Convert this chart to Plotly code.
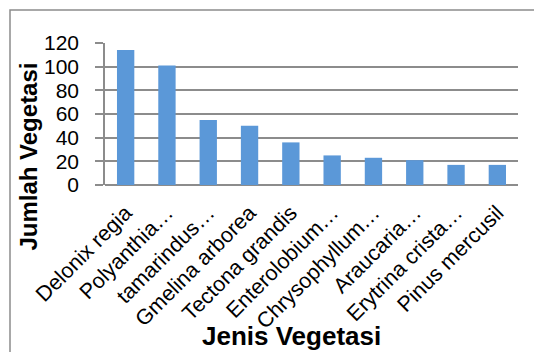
import plotly.graph_objects as go

categories = ["Delonix regia", "Polyanthia…", "tamarindus…", "Gmelina arborea",
              "Tectona grandis", "Enterolobium…", "Chrysophyllum…", "Araucaria…",
              "Erytrina crista…", "Pinus mercusil"]
values = [114, 101, 55, 50, 36, 25, 23, 21, 17, 17]
y_ticks = [0, 20, 40, 60, 80, 100, 120]

W, H = 534, 352
L, R, T, B = 105, 16, 43, 166.5
pw = W - L - R
ph = H - T - B

def px_x(x):
    return (x - L) / pw

def px_y(y):
    return (H - B - y) / ph

fig = go.Figure(go.Bar(
    x=categories, y=values,
    marker=dict(color="#5B98D8", line=dict(width=0)),
))

grid = "#8C8C8C"
font = "Liberation Sans, Arial, sans-serif"

fig.update_layout(
    width=W, height=H,
    margin=dict(l=L, r=R, t=T, b=B, autoexpand=False),
    paper_bgcolor="white", plot_bgcolor="white",
    bargap=0.58,
    showlegend=False,
    font=dict(family=font, color="black"),
    xaxis=dict(
        tickangle=-45, tickfont=dict(size=21.5, family=font, color="black"),
        showgrid=False, showline=False, ticks="", ticklabelstandoff=10,
        automargin=False,
    ),
    yaxis=dict(
        range=[0, 120], tickvals=y_ticks, ticktext=[str(v) for v in y_ticks],
        tickfont=dict(size=21, family=font, color="black"),
        showgrid=True, gridcolor=grid, gridwidth=1.5,
        showline=True, linecolor=grid, linewidth=1.5,
        ticks="outside", ticklen=8, tickcolor=grid, tickwidth=1.5,
        ticklabelstandoff=12, zeroline=True, zerolinecolor=grid, zerolinewidth=1.5,
        automargin=False,
    ),
    shapes=[dict(type="rect", xref="paper", yref="paper",
                 x0=px_x(10), x1=px_x(545), y0=px_y(10), y1=px_y(362),
                 line=dict(color="#8C8C8C", width=1.5), fillcolor="rgba(0,0,0,0)",
                 layer="below")],
    annotations=[
        dict(text="<b>Jumlah Vegetasi</b>", textangle=-90, showarrow=False,
             xref="paper", yref="paper", x=px_x(29), y=px_y(157),
             xanchor="center", yanchor="middle",
             font=dict(size=24, family=font, color="black")),
        dict(text="<b>Jenis Vegetasi</b>", showarrow=False,
             xref="paper", yref="paper", x=px_x(291), y=px_y(337),
             xanchor="center", yanchor="middle",
             font=dict(size=26, family=font, color="black")),
    ],
)

fig.write_html("out.html")
